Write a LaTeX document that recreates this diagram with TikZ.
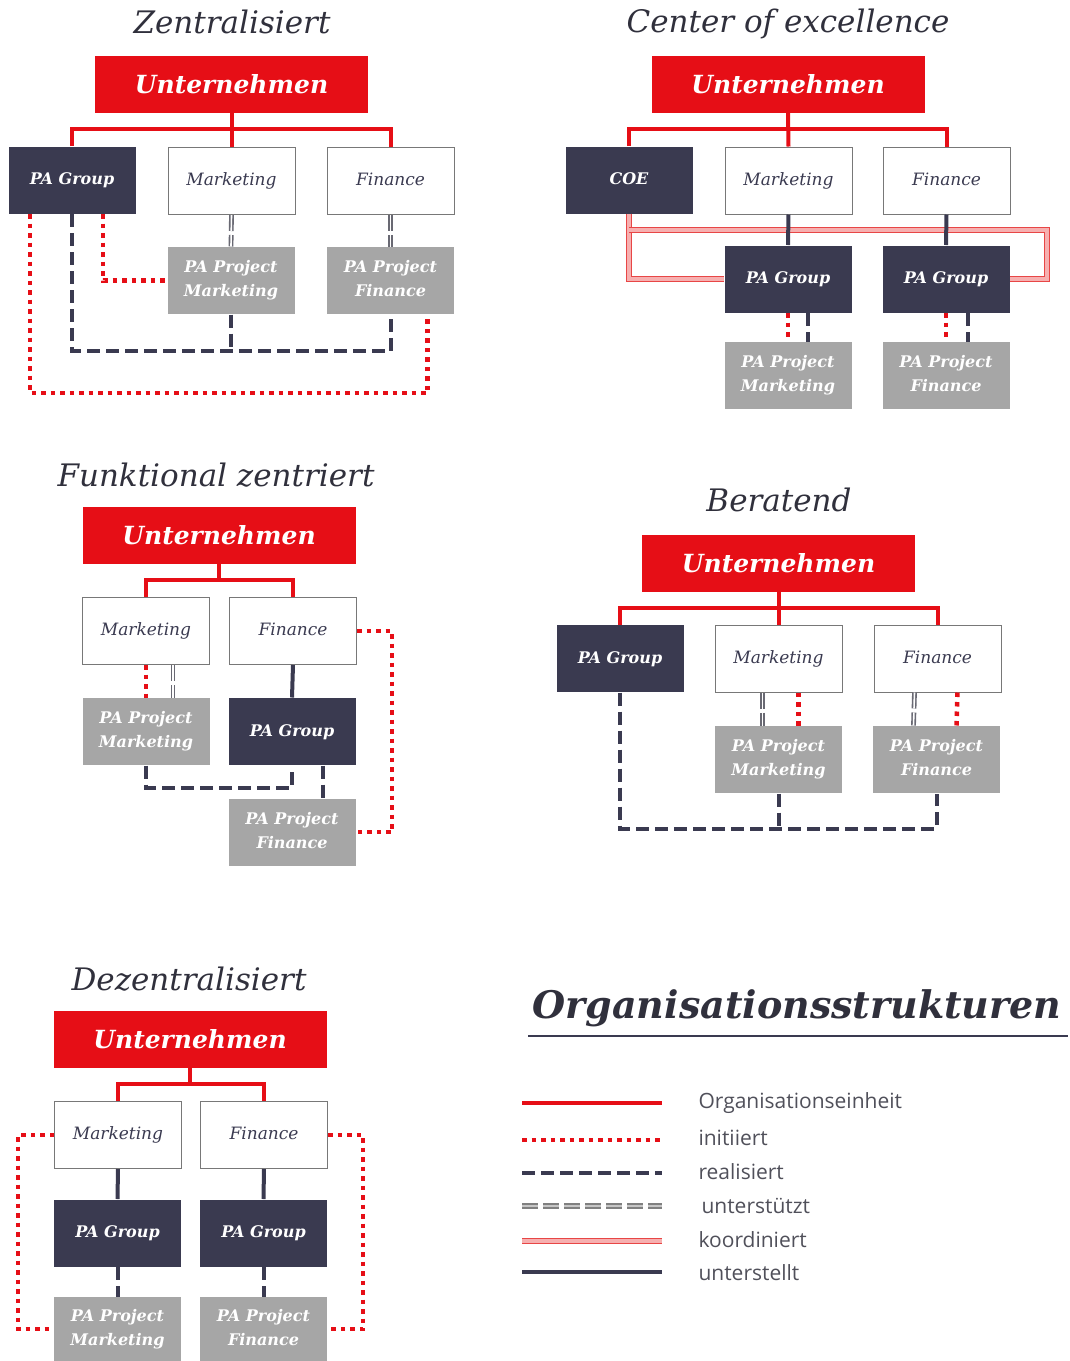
\documentclass[tikz,border=0pt]{standalone}
\usepackage{fontspec}
\setmainfont{DejaVu Serif}
\newfontfamily\legendfont{Open Sans}

\definecolor{orgred}{RGB}{230,14,22}
\definecolor{navy}{RGB}{58,58,80}
\definecolor{projgray}{RGB}{166,166,166}
\definecolor{framegray}{RGB}{120,120,120}
\definecolor{titlegray}{RGB}{48,48,60}
\definecolor{legendgray}{RGB}{80,80,90}
\definecolor{koorred}{RGB}{232,70,70}
\definecolor{koorpink}{RGB}{246,176,176}
\definecolor{supgray}{RGB}{105,105,115}

\tikzset{
  company/.style = {fill=orgred, text=white, minimum width=273pt, minimum height=57pt,
    inner sep=0pt, font=\fontsize{25}{28}\selectfont\bfseries\itshape},
  unit/.style = {draw=framegray, line width=1pt, fill=white, text=navy,
    minimum width=127pt, minimum height=67pt, inner sep=0pt,
    text height=13pt, text depth=4pt,
    font=\fontsize{17}{20}\selectfont\itshape},
  group/.style = {unit, draw=none, fill=navy, text=white,
    font=\fontsize{16}{20}\selectfont\bfseries\itshape},
  project/.style = {group, fill=projgray, align=center, text height=, text depth=4pt,
    font=\fontsize{16}{24}\selectfont\bfseries\itshape},
  title/.style = {text=titlegray, font=\fontsize{31}{34}\selectfont\itshape},
  orgline/.style = {draw=orgred, line width=4pt},
  initline/.style = {draw=orgred, line width=4.5pt, dash pattern=on 4.5pt off 5pt},
  realline/.style = {draw=navy, line width=4pt, dash pattern=on 13pt off 6pt},
  supline/.style = {draw=supgray, line width=1.6pt, double=white, double distance=1.6pt,
    dash pattern=on 16pt off 4pt},
  koorline/.style = {draw=koorred, line width=1.4pt, double=koorpink, double distance=3.5pt},
  subline/.style = {draw=navy, line width=4pt},
  legtext/.style = {anchor=west, text=legendgray, font=\legendfont\fontsize{21}{24}\selectfont},
}

\begin{document}
\begin{tikzpicture}[x=1pt,y=-1pt]
  \useasboundingbox (0,0) rectangle (1069,1361);

  % Zentralisiert
  \node[title] (zTitle) at (232,22) {Zentralisiert};
  \node[company] (zU) at (231.5,84.5) {Unternehmen};
  \node[group] (zG) at (72,180) {PA Group};
  \node[unit] (zM) at (231.5,181) {Marketing};
  \node[unit] (zF) at (390.5,181) {Finance};
  \node[project] (zPM) at (231,280.5) {PA Project\\Marketing};
  \node[project] (zPF) at (390.5,280.5) {PA Project\\Finance};
  \draw[orgline] (zG.north) -- ++(0,-17) -| (zF.north);
  \draw[orgline] (zU.south) -- (zM.north);
  \draw[supline] (zM.south) -- (zPM.north);
  \draw[supline] (zF.south) -- (zPF.north);
  \draw[realline] (zG.south) -- ++(0,137) -| (zPF.south);
  \draw[realline] (zPM.south) -- ++(0,37);
  \draw[initline] ([xshift=31pt]zG.south) |- (zPM.west);
  \draw[initline] ([xshift=-42pt]zG.south) -- ++(0,179) -| ([xshift=37pt]zPF.south);

  % Center of excellence
  \node[title] (cTitle) at (788,24) {Center of excellence};
  \node[company] (cU) at (788,84.5) {Unternehmen};
  \node[group] (cCOE) at (629,180) {COE};
  \node[unit] (cM) at (788.5,180.5) {Marketing};
  \node[unit] (cF) at (946.5,180.5) {Finance};
  \node[group] (cG1) at (788,279) {PA Group};
  \node[group] (cG2) at (946,279) {PA Group};
  \node[project] (cPM) at (788,375.5) {PA Project\\Marketing};
  \node[project] (cPF) at (946,375.5) {PA Project\\Finance};
  \draw[orgline] (cCOE.north) -- ++(0,-17) -| (cF.north);
  \draw[orgline] (cU.south) -- (cM.north);
  \draw[koorline] (cCOE.south) |- (cG1.west);
  \draw[koorline] ([yshift=-16pt]cCOE.south) -- ++(418,0) |- (cG2.east);
  \draw[subline] (cM.south) -- (cG1.north);
  \draw[subline] (cF.south) -- (cG2.north);
  \draw[initline] (cG1.south) -- (cPM.north);
  \draw[realline] ([xshift=20pt]cG1.south) -- ([xshift=20pt]cPM.north);
  \draw[initline] (cG2.south) -- (cPF.north);
  \draw[realline] ([xshift=22pt]cG2.south) -- ([xshift=22pt]cPF.north);

  % Funktional zentriert
  \node[title] (fTitle) at (216,475) {Funktional zentriert};
  \node[company] (fU) at (219,535.5) {Unternehmen};
  \node[unit] (fM) at (146,631) {Marketing};
  \node[unit] (fF) at (293,631) {Finance};
  \node[project] (fPM) at (146,731.5) {PA Project\\Marketing};
  \node[group] (fG) at (292,731.5) {PA Group};
  \node[project] (fPF) at (292,832) {PA Project\\Finance};
  \draw[orgline] (fM.north) -- ++(0,-17) -| (fF.north);
  \draw[orgline] (fU.south) -- ++(0,16);
  \draw[initline] (fM.south) -- (fPM.north);
  \draw[supline] ([xshift=27pt]fM.south) -- ([xshift=27pt]fPM.north);
  \draw[subline] (fF.south) -- (fG.north);
  \draw[realline] (fPM.south) -- ++(0,22) -| (fG.south);
  \draw[realline] ([xshift=31pt]fG.south) -- ([xshift=31pt]fPF.north);
  \draw[initline] (fF.east) -- ++(35,0) |- (fPF.east);

  % Beratend
  \node[title] (bTitle) at (779,500) {Beratend};
  \node[company] (bU) at (778.5,563.5) {Unternehmen};
  \node[group] (bG) at (620,658.5) {PA Group};
  \node[unit] (bM) at (778.5,658.5) {Marketing};
  \node[unit] (bF) at (937.5,658.5) {Finance};
  \node[project] (bPM) at (778.5,759.5) {PA Project\\Marketing};
  \node[project] (bPF) at (936.5,759.5) {PA Project\\Finance};
  \draw[orgline] (bG.north) -- ++(0,-17) -| (bF.north);
  \draw[orgline] (bU.south) -- (bM.north);
  \draw[supline] ([xshift=-16pt]bM.south) -- ([xshift=-16pt]bPM.north);
  \draw[initline] ([xshift=20pt]bM.south) -- ([xshift=20pt]bPM.north);
  \draw[supline] ([xshift=-23pt]bF.south) -- ([xshift=-23pt]bPF.north);
  \draw[initline] ([xshift=20pt]bF.south) -- ([xshift=20pt]bPF.north);
  \draw[realline] (bG.south) -- ++(0,136) -| (bPF.south);
  \draw[realline] (bPM.south) -- ++(0,35);

  % Dezentralisiert
  \node[title] (dTitle) at (189,979) {Dezentralisiert};
  \node[company] (dU) at (190,1039.5) {Unternehmen};
  \node[unit] (dM) at (118,1135) {Marketing};
  \node[unit] (dF) at (264,1135) {Finance};
  \node[group] (dG1) at (117.5,1233) {PA Group};
  \node[group] (dG2) at (263.5,1233) {PA Group};
  \node[project, minimum height=64pt] (dPM) at (117.5,1329) {PA Project\\Marketing};
  \node[project, minimum height=64pt] (dPF) at (263.5,1329) {PA Project\\Finance};
  \draw[orgline] (dM.north) -- ++(0,-17) -| (dF.north);
  \draw[orgline] (dU.south) -- ++(0,16);
  \draw[subline] (dM.south) -- (dG1.north);
  \draw[subline] (dF.south) -- (dG2.north);
  \draw[realline] (dG1.south) -- (dPM.north);
  \draw[realline] (dG2.south) -- (dPF.north);
  \draw[initline] (dM.west) -- ++(-36,0) |- (dPM.west);
  \draw[initline] (dF.east) -- ++(35,0) |- (dPF.east);

  % Legende
  \node[text=titlegray, font=\fontsize{38}{42}\selectfont\bfseries\itshape] (lTitle) at (797,1008) {Organisationsstrukturen};
  \draw[navy, line width=1.5pt] (528,1036) -- (1068,1036);
  \draw[orgline] (522,1103) -- (662,1103);
  \node[legtext] (lOrg) at (695,1103) {Organisationseinheit};
  \draw[initline] (522,1140) -- (662,1140);
  \node[legtext] (lInit) at (695,1138) {initiiert};
  \draw[realline] (522,1173) -- (662,1173);
  \node[legtext] (lReal) at (695,1172) {realisiert};
  \draw[supline, draw=gray, line width=2pt, double=gray!45, double distance=1.2pt,
    dash pattern=on 16pt off 5pt] (522,1206) -- (662,1206);
  \node[legtext] (lSup) at (698,1206) {unterstützt};
  \draw[koorline] (522,1241) -- (662,1241);
  \node[legtext] (lKoor) at (695,1240) {koordiniert};
  \draw[subline] (522,1272) -- (662,1272);
  \node[legtext] (lSub) at (695,1273) {unterstellt};
\end{tikzpicture}
\end{document}
